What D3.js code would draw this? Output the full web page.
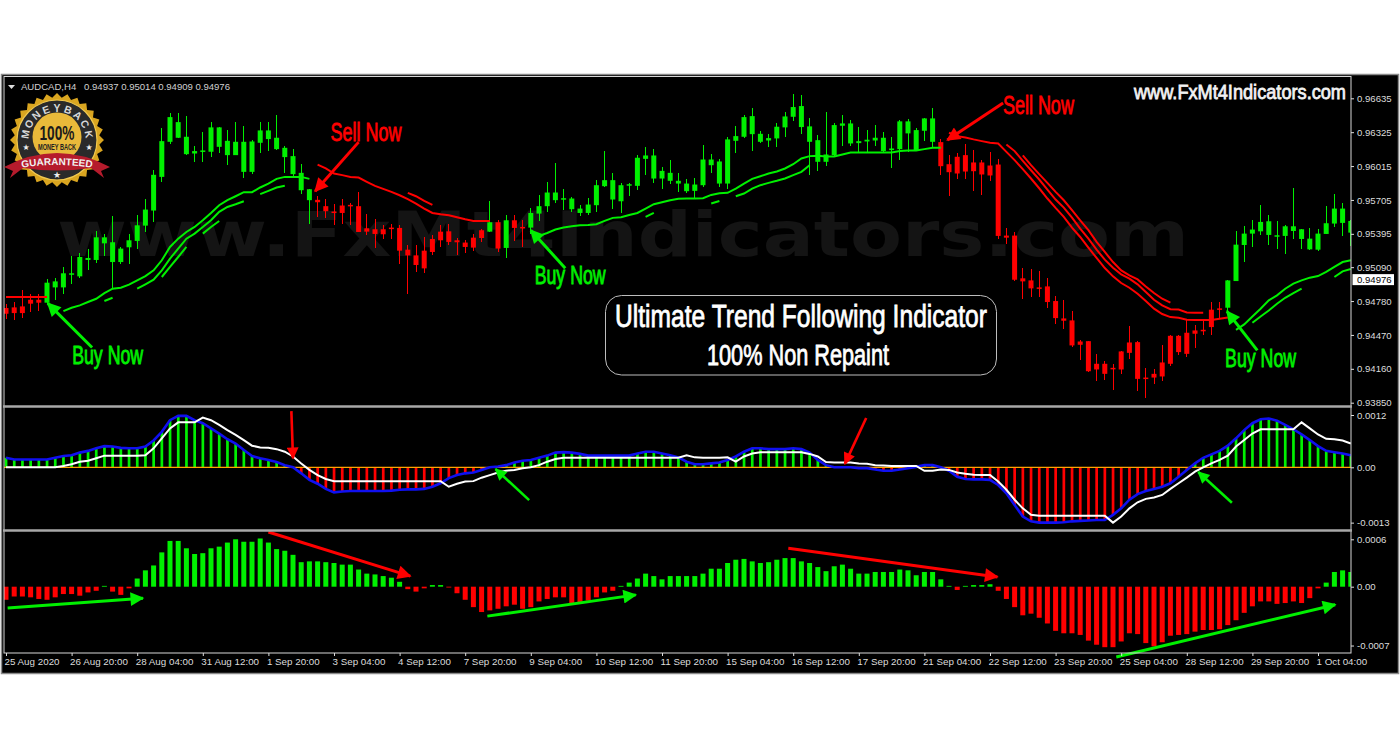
<!DOCTYPE html>
<html><head><meta charset="utf-8">
<style>html,body{margin:0;padding:0;background:#fff}svg{display:block}</style>
<script src="https://cdn.jsdelivr.net/npm/d3@7/dist/d3.min.js"></script>
</head><body><svg id="c" width="1400" height="750"></svg>
<script>
// Prices are in points (1 point = 0.00001), one entry per H4 bar.
const opens=[94716,94722,94731,94792,94792,94765,94905,94905,95024,95006,
95156,95156,95308,95137,95137,95272,95330,95470,95608,95916,
96237,96274,96124,96130,96146,96146,96191,96115,96115,95962,
95962,96228,96262,96170,96097,95941,95794,95703,95706,95648,
95599,95654,95660,95648,95446,95437,95437,95452,95449,95250,
95198,95241,95348,95415,95418,95336,95315,95360,95428,95415,
95501,95266,95519,95458,95452,95580,95648,95703,95715,95620,
95586,95586,95657,95831,95709,95693,95843,95834,96081,95901,
95901,95880,95855,95785,95788,95840,96023,95855,95855,96246,
96283,96307,96237,96249,96268,96369,96466,96372,96237,96054,
96054,96115,96384,96222,96225,96240,96249,96152,96161,96170,
96314,96161,96338,96237,96234,96032,96100,96115,96048,96048,
96020,96029,95379,95379,94988,94969,94905,94914,94780,94621,
94603,94410,94413,94206,94206,94169,94319,94401,94404,94080,
94114,94218,94462,94462,94490,94511,94517,94701,94713,94719,
94963,95293,95397,95418,95385,95376,95376,95421,95348,95253,
95250,95394,95489,95495,95406];
const closes=[94664,94670,94670,94756,94765,94948,94960,95034,95034,95183,
95174,95363,95363,95318,95260,95336,95473,95617,95935,96243,
96463,96417,96283,96152,96158,96369,96369,96246,96237,96237,
96240,96341,96341,96274,96182,96106,95953,95803,95684,95602,
95593,95586,95648,95412,95415,95394,95391,95440,95241,95198,
95110,95079,95229,95336,95321,95318,95275,95269,95357,95501,
95260,95519,95449,95452,95586,95648,95773,95773,95721,95718,
95626,95663,95840,95886,95886,95840,95849,96091,96112,96112,
95971,95953,95880,95855,95846,96075,96075,96057,96259,96289,
96463,96472,96310,96271,96375,96469,96555,96564,96378,96252,
96121,96390,96405,96405,96243,96256,96274,96274,96176,96424,
96424,96344,96451,96451,96014,95959,95947,95965,95968,95938,
95929,95376,95360,94975,94960,94896,94899,94771,94624,94600,
94374,94380,94138,94154,94114,94157,94154,94306,94068,94068,
94080,94090,94206,94313,94297,94481,94511,94542,94701,94969,
95296,95397,95434,95504,95510,95382,95464,95464,95437,95351,
95397,95492,95626,95626,95513];
const highs=[94755,94771,94878,94847,94841,94985,94994,95092,95189,95220,
95260,95418,95397,95562,95275,95397,95571,95718,95977,96359,
96497,96503,96472,96197,96323,96420,96369,96344,96420,96381,
96252,96420,96420,96482,96197,96167,96032,95809,95739,95718,
95672,95718,95678,95779,95574,95535,95473,95483,95473,95290,
95290,95366,95382,95480,95489,95357,95336,95397,95443,95693,
95519,95565,95565,95519,95635,95748,95871,96039,95809,95733,
95657,95724,95886,96152,95956,95864,95864,96115,96185,96167,
96008,96069,95947,95901,95907,96207,96124,96084,96283,96381,
96482,96549,96338,96307,96411,96512,96671,96665,96451,96298,
96506,96405,96482,96436,96369,96344,96390,96329,96283,96436,
96442,96359,96451,96549,96262,96115,96130,96216,96161,96069,
96146,96084,95452,95415,95082,95076,95052,94994,94823,94792,
94688,94426,94413,94297,94236,94206,94319,94548,94419,94169,
94160,94374,94465,94465,94603,94563,94597,94771,94771,94975,
95418,95464,95525,95657,95571,95513,95480,95816,95443,95452,
95443,95648,95758,95681,95519];
const lows=[94618,94603,94627,94679,94688,94756,94786,94847,94939,94988,
95061,95128,95189,94899,95122,95122,95260,95412,95504,95871,
96216,96268,96115,96054,96054,96100,96130,96029,96115,95910,
95941,96130,96155,96161,95947,95916,95758,95489,95550,95541,
95473,95489,95473,95412,95382,95266,95351,95351,95116,94847,
95046,95040,95198,95275,95290,95198,95220,95238,95321,95412,
95229,95177,95327,95275,95397,95513,95596,95678,95617,95596,
95559,95565,95596,95819,95626,95586,95739,95794,95932,95864,
95809,95855,95779,95770,95718,95819,95947,95825,95803,96130,
96274,96155,96228,96185,96185,96283,96430,96307,95932,95968,
96014,96106,96197,96197,96146,96146,96197,96146,95993,96069,
96146,96155,96246,96191,95932,95739,95901,95901,95788,95751,
95880,95345,95305,94960,94801,94817,94817,94719,94566,94526,
94358,94242,94129,94053,94059,93970,94114,94251,93955,93891,
94022,94047,94190,94282,94267,94349,94465,94465,94618,94679,
94963,95137,95275,95382,95290,95260,95208,95351,95260,95250,
95235,95391,95458,95376,95284];

// Trend lines: each segment is [first bar, values...].
const redTrend=[
 [0,94817,94817,94817,94817,94817,94817],
 [38,96029,95993,95947,95932,95916,95910,95871,95834,95806,95779,95748,95712,95672,95626,95586,95574,95565,95547,95528,95513,95513,95513],
 [49,95770,95739,95696,95660],
 [115,96320,96289,96277,96259,96243,96228,96222,96145,96069,95987,95901,95812,95718,95632,95550,95452,95366,95269,95174,95082,95006,94945,94902,94847,94780,94710,94661,94633,94627,94609,94606,94606,94606,94618,94630],
 [122,96213,96152,96063,95977,95892,95800,95709,95635,95544,95443,95351,95250,95159,95085,95024,94985,94933,94862,94792,94740,94706,94703,94676,94673,94673],
 [124,96112,96023,95941,95861,95779,95702,95611,95519,95428,95321,95229,95137,95061,95015,94978,94914,94853,94801,94765]
];
const greenTrend=[
 [7,94688,94719,94740,94771,94801,94853,94893,94902,94930,94969,95009,95061,95153,95275,95351,95412,95458,95519,95586,95657,95703,95739,95776,95776,95819,95855,95898,95916,95916,95916,95898],
 [16,94893,94933,94975,95061,95168,95260,95351,95397,95458,95519,95596,95641,95666,95693],
 [12,94780,94810],
 [19,95000,95092,95183,95275],
 [24,95397,95458,95513],
 [31,95758,95788,95819,95834],
 [65,95376,95403,95434,95452,95464,95473,95476,95483,95513,95541,95547,95568,95586,95626,95666,95684,95703,95715,95718,95718,95721,95751,95767,95770,95809,95855,95898,95922,95947,95965,95993,96032,96084,96106,96109,96103,96103,96121,96139,96139,96139,96139,96139,96139,96152,96158,96158,96170,96182,96182],
 [78,95550,95586],
 [86,95672,95696],
 [89,95739,95764,95809,95840,95861,95880,95901,95932,95962,96023],
 [150,94517,94566,94639,94710,94786,94832,94893,94939,94969,94994,95009,95046,95092,95137,95153],
 [152,94581,94639,94694,94756,94810,94853,94893],
 [162,95000,95052,95073]
];

// MACD pane, in units of 0.00001.
const macdMain=[22,18,18,18,18,18,22,26,28,34,38,44,49,48,45,44,44,48,62,82,109,119,119,109,102,90,78,65,55,40,26,21,17,12,5,0,-14,-29,-38,-50,-58,-56,-55,-55,-55,-55,-55,-54,-52,-51,-51,-50,-45,-37,-25,-18,-14,-12,-6,0,2,5,11,15,17,22,27,34,35,34,31,27,27,27,27,27,27,32,36,36,32,28,23,13,7,7,9,11,17,25,36,44,44,42,42,42,44,42,34,17,5,0,0,0,-2,-2,-5,-8,-8,-5,-2,1,5,5,0,-8,-22,-27,-28,-28,-29,-41,-60,-87,-114,-125,-128,-128,-128,-127,-125,-124,-123,-122,-122,-110,-95,-75,-62,-55,-50,-45,-37,-22,-6,9,22,30,38,50,67,86,102,111,113,108,98,88,76,63,49,38,35,32,28];
const macdSignal=[0,0,0,0,0,0,0,3,7,13,15,21,27,27,27,27,27,28,44,67,90,104,104,104,115,109,98,86,75,63,50,46,45,42,36,25,9,-6,-18,-27,-32,-32,-32,-32,-32,-32,-32,-32,-32,-32,-32,-32,-32,-32,-45,-38,-33,-32,-24,-18,-12,-8,-6,-2,0,5,13,19,22,22,22,22,22,22,22,22,22,22,22,22,22,22,22,28,23,22,22,22,23,13,25,32,35,35,35,35,35,35,31,25,12,11,11,11,9,8,5,4,3,3,3,3,-8,-8,-5,-6,-12,-15,-17,-18,-18,-33,-52,-75,-95,-110,-112,-112,-112,-112,-112,-112,-112,-112,-112,-128,-114,-95,-81,-73,-70,-64,-50,-37,-24,-10,0,9,17,27,48,63,78,88,88,88,88,88,104,90,76,66,65,62,55];

// Oscillator histogram pane, in units of 0.00001.
const osmaHist=[-16,-12,-12,-13,-15,-16,-13,-9,-9,-11,-7,-5,1,-6,-10,-2,10,20,26,42,56,56,47,40,41,47,49,54,58,55,55,59,54,46,44,39,30,31,31,30,29,27,27,21,16,15,13,11,6,-3,-6,-2,2,2,-1,-8,-16,-25,-31,-29,-27,-24,-22,-27,-25,-18,-15,-13,-13,-20,-19,-17,-13,-7,-5,1,5,10,16,13,9,13,13,13,13,16,22,22,29,33,34,31,29,30,33,35,35,31,29,24,19,25,27,22,16,16,18,18,18,21,20,14,18,18,9,1,-4,1,2,2,3,-5,-15,-25,-35,-33,-38,-45,-54,-57,-57,-59,-66,-71,-74,-74,-67,-57,-58,-69,-73,-68,-60,-59,-58,-55,-53,-53,-52,-47,-41,-32,-24,-18,-18,-21,-20,-18,-20,-14,-2,5,18,20,18];

// Axes.
const timeLabels=["25 Aug 2020","26 Aug 20:00","28 Aug 04:00","31 Aug 12:00","1 Sep 20:00","3 Sep 04:00","4 Sep 12:00","7 Sep 20:00","9 Sep 04:00","10 Sep 12:00","11 Sep 20:00","15 Sep 04:00","16 Sep 12:00","17 Sep 20:00","21 Sep 04:00","22 Sep 12:00","23 Sep 20:00","25 Sep 04:00","28 Sep 12:00","29 Sep 20:00","1 Oct 04:00"];
const priceTicks=[96635,96325,96015,95705,95395,95090,94780,94470,94160,93850];
const macdTicks=[121,0,-128];
const osmaTicks=[58,0,-72];
const lastPrice=94976;

// Annotations: [colour, bar0, value0, bar1, value1] tail -> head.
const mainArrows=[["g",10.5,94355,5.1,94759],["r",43,96234,37.7,95785],["g",68.2,95080,64,95428],["r",121.6,96592,114.8,96253],["g",152.6,94329,148.9,94686]];
const macdArrows=[["r",34.8,130,35,21],["g",63.8,-76,59.7,-4],["r",104.9,114,102.3,8],["g",149.5,-82,145.4,-11]];
const osmaArrows=[["g",0.2,-26,16.7,-14],["r",32,67,49.3,13],["g",58.7,-36,76.8,-10],["r",95.4,47,120.9,12],["g",135.4,-86,162.1,-22]];
const callouts=[["Buy Now",12.4,94282,"g"],["Sell Now",43.9,96326,"r"],["Buy Now",68.8,95017,"g"],["Sell Now",125.9,96573,"r"],["Buy Now",153,94256,"g"]];

const GREEN="#00f000",RED="#ff0000";
const svg=d3.select("#c");
const defs=svg.append("defs");
[["g",GREEN],["r",RED]].forEach(([k,c])=>{
 defs.append("marker").attr("id","ah"+k).attr("viewBox","0 0 10 10").attr("refX",9).attr("refY",5)
  .attr("markerWidth",5.5).attr("markerHeight",4.6).attr("orient","auto")
  .append("path").attr("d","M0,0L10,5L0,10Z").attr("fill",c);
});
const L=4,R=1351;
defs.append("clipPath").attr("id","clipMain").append("rect").attr("x",L).attr("y",77).attr("width",R-L).attr("height",328);
defs.append("clipPath").attr("id","clipMacd").append("rect").attr("x",L).attr("y",408).attr("width",R-L).attr("height",121);
defs.append("clipPath").attr("id","clipOsma").append("rect").attr("x",L).attr("y",532).attr("width",R-L).attr("height",121);

// Background & frame
svg.append("rect").attr("x",1.5).attr("y",74.5).attr("width",1397).attr("height",599).attr("fill","#000").attr("stroke","#8a8a8a").attr("stroke-width",1.5);
const x=d3.scaleLinear().domain([0,164]).range([6,1350.8]);
const yP=d3.scaleLinear().domain([96635,93850]).range([98.3,402.7]);
const yM=d3.scaleLinear().domain([0,121]).range([467.3,415]);
const yO=d3.scaleLinear().domain([0,58]).range([586.7,539.3]);

const gMain=svg.append("g").attr("clip-path","url(#clipMain)");
const gMacd=svg.append("g").attr("clip-path","url(#clipMacd)");
const gOsma=svg.append("g").attr("clip-path","url(#clipOsma)");

// Watermark
gMain.append("text").attr("x",57).attr("y",256).attr("textLength",1132).attr("lengthAdjust","spacingAndGlyphs")
 .attr("font-family","'DejaVu Sans'").attr("font-weight","bold").attr("font-size",62).attr("fill","#141414").text("www.FxMt4Indicators.com");

// Candles
const bars=d3.range(opens.length);
const col=i=>closes[i]>=opens[i]?GREEN:RED;
gMain.append("g").selectAll("line").data(bars).join("line")
 .attr("x1",x).attr("x2",x).attr("y1",i=>yP(highs[i])).attr("y2",i=>yP(lows[i]))
 .attr("stroke",col).attr("stroke-width",1).attr("shape-rendering","crispEdges");
gMain.append("g").selectAll("rect").data(bars).join("rect")
 .attr("x",i=>x(i)-2.5).attr("width",5)
 .attr("y",i=>yP(Math.max(opens[i],closes[i])))
 .attr("height",i=>Math.max(1.5,Math.abs(yP(opens[i])-yP(closes[i]))))
 .attr("fill",col);

// Trend lines
const seg=s=>s.slice(1).map((v,k)=>[s[0]+k,v]);
const lineP=d3.line().x(d=>x(d[0])).y(d=>yP(d[1]));
gMain.append("g").selectAll("path").data(redTrend).join("path").attr("d",s=>lineP(seg(s))).attr("fill","none").attr("stroke",RED).attr("stroke-width",2);
gMain.append("g").selectAll("path").data(greenTrend).join("path").attr("d",s=>lineP(seg(s))).attr("fill","none").attr("stroke",GREEN).attr("stroke-width",2);

// MACD pane
gMacd.append("g").selectAll("rect").data(bars).join("rect")
 .attr("x",i=>x(i)-1.3).attr("width",2.7)
 .attr("y",i=>Math.min(yM(0),yM(macdMain[i])))
 .attr("height",i=>Math.abs(yM(macdMain[i])-yM(0)))
 .attr("fill",i=>macdMain[i]>=0?GREEN:RED);
gMacd.append("line").attr("x1",L).attr("x2",R).attr("y1",yM(0)).attr("y2",yM(0)).attr("stroke","#ffa500").attr("stroke-width",1.2);
const lineM=d3.line().x((d,i)=>x(i)).y(d=>yM(d));
gMacd.append("path").attr("d",lineM(macdMain)).attr("fill","none").attr("stroke","#1010f0").attr("stroke-width",2.6);
gMacd.append("path").attr("d",lineM(macdSignal)).attr("fill","none").attr("stroke","#fff").attr("stroke-width",2);

// Oscillator pane
gOsma.append("g").selectAll("rect").data(bars).join("rect")
 .attr("x",i=>x(i)-2.5).attr("width",5)
 .attr("y",i=>Math.min(yO(0),yO(osmaHist[i])))
 .attr("height",i=>Math.abs(yO(osmaHist[i])-yO(0)))
 .attr("fill",i=>osmaHist[i]>=0?GREEN:RED);

// Arrows
function arrows(g,data,y,w){
 g.append("g").selectAll("line").data(data).join("line")
  .attr("x1",d=>x(d[1])).attr("y1",d=>y(d[2])).attr("x2",d=>x(d[3])).attr("y2",d=>y(d[4]))
  .attr("stroke",d=>d[0]=="g"?GREEN:RED).attr("stroke-width",w)
  .attr("marker-end",d=>`url(#ah${d[0]})`);
}
arrows(svg,mainArrows,yP,3);
arrows(svg,macdArrows,yM,2.6);
arrows(svg,osmaArrows,yO,3);

// Frames, separators
const frame=svg.append("g").attr("fill","none");
frame.append("rect").attr("x",L).attr("y",76.5).attr("width",R-L).attr("height",576.5).attr("stroke","#d8d8d8");
[406.5,530.5].forEach(v=>{
 frame.append("line").attr("x1",3).attr("x2",R+1).attr("y1",v).attr("y2",v).attr("stroke","#a8a8a8").attr("stroke-width",2.4);
});

// Axes
const FONT="'Liberation Sans',Arial,sans-serif";
function yAxis(scale,ticks,fmt){
 const g=svg.append("g").attr("transform",`translate(${R},0)`)
  .call(d3.axisRight(scale).tickValues(ticks).tickSize(3).tickPadding(3).tickFormat(fmt));
 g.select(".domain").remove();
 g.selectAll("line").attr("stroke","#ddd");
 g.selectAll("text").attr("fill","#dcdcdc").attr("font-family",FONT).attr("font-size",9.6);
}
yAxis(yP,priceTicks,d=>(d/1e5).toFixed(5));
const f4=d=>d===0?"0.00":(d/1e5).toFixed(4);
yAxis(yM,macdTicks,f4);
yAxis(yO,osmaTicks,f4);
const gx=svg.append("g").attr("transform","translate(0,653)")
 .call(d3.axisBottom(x).tickValues(timeLabels.map((_,k)=>k*8)).tickSize(3).tickPadding(3).tickFormat((d,k)=>timeLabels[k]));
gx.select(".domain").remove();
gx.selectAll("line").attr("stroke","#ddd");
gx.selectAll("text").attr("fill","#dcdcdc").attr("font-family",FONT).attr("font-size",9.8).attr("text-anchor","start").attr("dx",-2).attr("dy",6);

// Last price tag
const ty=yP(lastPrice);
svg.append("rect").attr("x",R+1.5).attr("y",ty-5.5).attr("width",41.5).attr("height",11).attr("fill","#fff");
svg.append("text").attr("x",R+6).attr("y",ty+3.5).attr("font-family",FONT).attr("font-size",9.6).attr("fill","#000").text((lastPrice/1e5).toFixed(5));

// Header
svg.append("path").attr("d","M8,85L15,85L11.5,89Z").attr("fill","#ddd");
svg.append("text").attr("x",21).attr("y",89.5).attr("font-family",FONT).attr("font-size",9.6).attr("fill","#d0d0d0").attr("textLength",209).attr("lengthAdjust","spacing").style("white-space","pre").text("AUDCAD,H4   0.94937 0.95014 0.94909 0.94976");

// Condensed display texts
const NARROW="'Liberation Sans Narrow','Liberation Sans',sans-serif";
function display(xp,yp,len,size,txt,fill){
 return svg.append("text").attr("x",xp).attr("y",yp).attr("text-anchor","middle").attr("font-family",NARROW).attr("font-size",size)
  .attr("textLength",len).attr("lengthAdjust","spacingAndGlyphs").attr("fill",fill).attr("stroke",fill).attr("stroke-width",.8).text(txt);
}
callouts.forEach(c=>display(x(c[1]),yP(c[2])+9,71,25,c[0],c[3]=="g"?GREEN:RED));
display(1240,98.5,212,21,"www.FxMt4Indicators.com","#f2f2f2");
svg.append("rect").attr("x",605.5).attr("y",295.5).attr("width",391).attr("height",79.5).attr("rx",16).attr("fill","#000").attr("stroke","#bdbdbd").attr("stroke-width",1);
display(801,327,372,32,"Ultimate Trend Following Indicator","#fff");
display(798,365,182,29,"100% Non Repaint","#fff");

// Money-back seal
const seal=svg.append("g").attr("transform","translate(57,140)");
const burst=d3.range(56).map(k=>{const r=k%2?42.5:47,a=k/56*2*Math.PI;return [r*Math.sin(a),-r*Math.cos(a)];});
seal.append("path").attr("d",d3.line()(burst)+"Z").attr("fill","#d9a520");
seal.append("circle").attr("r",40).attr("fill","#2a2a2a").attr("stroke","#f0c850").attr("stroke-width",1.2);
seal.append("circle").attr("cy",-3).attr("r",24.5).attr("fill","#e9b93a");
"MONEYBACK".split("").forEach((ch,k)=>{
 const a=-80+k*20;
 seal.append("text").attr("transform",`rotate(${a}) translate(0,-28.5)`).attr("text-anchor","middle")
  .attr("font-family","'Liberation Sans'").attr("font-weight","bold").attr("font-size",10.5).attr("fill","#d8d8d8").text(ch);
});
seal.append("text").attr("x",0).attr("y",0).attr("text-anchor","middle").attr("font-family",NARROW).attr("font-weight","bold").attr("font-size",21).attr("textLength",35).attr("lengthAdjust","spacingAndGlyphs").attr("fill","#1a1a1a").text("100%");
seal.append("text").attr("x",0).attr("y",10).attr("text-anchor","middle").attr("font-family",NARROW).attr("font-weight","bold").attr("font-size",8.5).attr("textLength",38).attr("lengthAdjust","spacingAndGlyphs").attr("fill","#222").text("MONEY BACK");
[-31,32].forEach(v=>seal.append("text").attr("x",v).attr("y",10).attr("text-anchor","middle").attr("font-family","'DejaVu Sans'").attr("font-size",8).attr("fill","#eee").text("★"));
seal.append("path").attr("d","M-53,27Q0,-1 53,27L44,31L47,38L34,28Q0,33 -34,28L-47,38L-44,31Z").attr("fill","#b51b2c");
defs.append("path").attr("id","arcRib").attr("d","M-37,28Q0,22 37,28");
seal.append("text").attr("font-family","'Liberation Sans'").attr("font-weight","bold").attr("font-size",10).attr("fill","#f0f0f0")
 .append("textPath").attr("href","#arcRib").attr("startOffset","50%").attr("text-anchor","middle").text("GUARANTEED");
seal.append("text").attr("x",0).attr("y",38).attr("text-anchor","middle").attr("font-family","'DejaVu Sans'").attr("font-size",9).attr("fill","#eee").text("★");
</script></body></html>
